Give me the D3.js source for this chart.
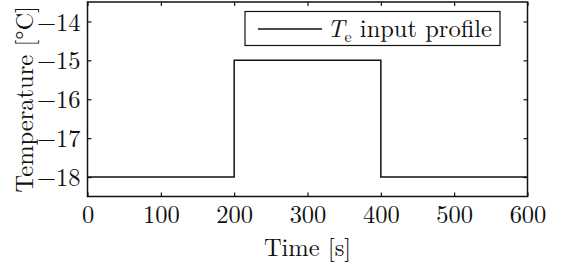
<!DOCTYPE html>
<html>
<head>
<meta charset="utf-8">
<script src="https://cdn.jsdelivr.net/npm/d3@7"></script>
<style>
  body { margin: 0; background: white; }
  svg text { font-family: "Latin Modern Roman", "DejaVu Serif", "Liberation Serif", serif; fill: #111; }
</style>
</head>
<body>
<div id="chart"></div>
<script>
/* global d3 */

// step profile of the outdoor temperature
let times = [0, 200, 200, 400, 400, 600];
let temps = [-18, -18, -15, -15, -18, -18];
let xTicks = [0, 100, 200, 300, 400, 500, 600];
let yTicks = [-18, -17, -16, -15, -14];
let legendLabel = ' input profile';

let width = 562, height = 266;
let margin = { top: 2, right: 34.5, bottom: 69.5, left: 87.5 };
let w = width - margin.left - margin.right;
let h = height - margin.top - margin.bottom;
let fontSize = '24.5px';

let xScale = d3.scaleLinear().domain([0, 600]).range([0, w]);
let yScale = d3.scaleLinear().domain([-18.5, -13.5]).range([h, 0]);

let svg = d3.select('#chart')
  .append('svg')
  .attr('width', width)
  .attr('height', height)
  .append('g')
  .attr('transform', 'translate(' + margin.left + ',' + margin.top + ')');

let fmt = d => (d < 0 ? '\u2212' + Math.abs(d) : '' + d);

// axes, ticks pointing inwards on all four sides
let tickLen = 4;
let axBottom = svg.append('g')
  .attr('transform', 'translate(0,' + h + ')')
  .call(d3.axisBottom(xScale).tickValues(xTicks).tickSizeInner(-tickLen).tickSizeOuter(0).tickPadding(9).tickFormat(fmt));
let axTop = svg.append('g')
  .call(d3.axisTop(xScale).tickValues(xTicks).tickSizeInner(-tickLen).tickSizeOuter(0).tickFormat(''));
let axLeft = svg.append('g')
  .call(d3.axisLeft(yScale).tickValues(yTicks).tickSizeInner(-tickLen).tickSizeOuter(0).tickPadding(7).tickFormat(fmt));
let axRight = svg.append('g')
  .attr('transform', 'translate(' + w + ',0)')
  .call(d3.axisRight(yScale).tickValues(yTicks).tickSizeInner(-tickLen).tickSizeOuter(0).tickFormat(''));

[axBottom, axTop, axLeft, axRight].forEach(g => {
  g.select('.domain').remove();
  g.selectAll('.tick line').attr('stroke', '#111').attr('stroke-width', 1.2);
  g.selectAll('.tick text').style('font-size', fontSize).attr('fill', '#111');
});
axBottom.selectAll('.tick text').attr('dy', '0.71em');
axLeft.selectAll('.tick text').attr('dy', '0.35em');

// frame
svg.append('rect')
  .attr('width', w)
  .attr('height', h)
  .attr('fill', 'none')
  .attr('stroke', '#111')
  .attr('stroke-width', 1.5);

// data line
let line = d3.line()
  .x((d, i) => xScale(times[i]))
  .y(d => yScale(d));
svg.append('path')
  .datum(temps)
  .attr('d', line)
  .attr('fill', 'none')
  .attr('stroke', '#111')
  .attr('stroke-width', 1.5);

// axis labels
svg.append('text')
  .attr('x', w / 2)
  .attr('y', h + 59)
  .style('text-anchor', 'middle')
  .style('font-size', fontSize)
  .text('Time [s]');
svg.append('text')
  .attr('transform', 'translate(' + (-54.5) + ',' + (h / 2) + ') rotate(-90)')
  .style('text-anchor', 'middle')
  .style('font-size', fontSize)
  .text('Temperature [\u00b0C]');

// legend
let legend = svg.append('g')
  .attr('transform', 'translate(' + (245 - margin.left) + ',' + (11.5 - margin.top) + ')');
legend.append('rect')
  .attr('width', 255)
  .attr('height', 34)
  .attr('fill', 'white')
  .attr('stroke', '#111')
  .attr('stroke-width', 1.2);
legend.append('line')
  .attr('x1', 13).attr('x2', 77)
  .attr('y1', 17.5).attr('y2', 17.5)
  .attr('stroke', '#111')
  .attr('stroke-width', 1.5);
let lt = legend.append('text')
  .attr('x', 82)
  .attr('y', 25.5)
  .style('font-size', fontSize);
lt.append('tspan').style('font-style', 'italic').text('T');
lt.append('tspan').attr('dy', 5).style('font-size', '16px').text('e');
lt.append('tspan').attr('dy', -5).text(legendLabel);
</script>
</body>
</html>
